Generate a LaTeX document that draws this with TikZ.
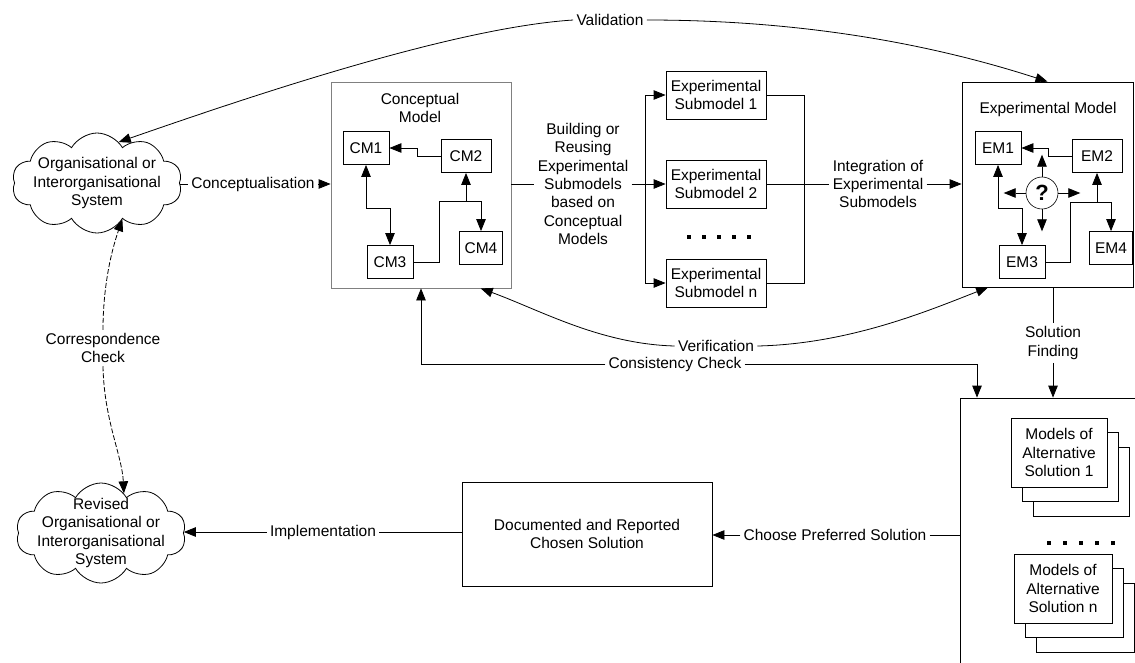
\documentclass[tikz,border=0pt]{standalone}
\usepackage{fontspec}
\setmainfont{Liberation Sans}
\usetikzlibrary{arrows.meta,shapes.symbols}

\begin{document}
\begin{tikzpicture}[x=1pt,y=-1pt,line width=0.8pt,
	font=\fontsize{15.5}{18.3}\selectfont,
	arr/.style={-{Triangle[length=12pt,width=9.5pt]}},
	arrboth/.style={{Triangle[length=12pt,width=9.5pt]}-{Triangle[length=12pt,width=9.5pt]}},
	txt/.style={align=center,inner sep=3pt},
	mbox/.style={draw,minimum width=46pt,minimum height=33pt,inner sep=0pt},
	subbox/.style={draw,align=center,minimum width=100pt,minimum height=48pt,inner sep=0pt},
	altbox/.style={draw,fill=white,align=center,minimum height=69pt,inner sep=0pt},
	orgcloud/.style={draw,cloud,cloud puffs=10,cloud puff arc=120,minimum width=170pt,minimum height=100pt,inner sep=0pt}]
	\useasboundingbox (0,0) rectangle (1135,662);
	\clip (0,0) rectangle (1135,662);

	% systems
	\node[orgcloud] (org) at (97,183) {};
	\node[txt] (orgtxt) at (org) {Organisational or\\Interorganisational\\System};
	\node[orgcloud] (rev) at (101,533) {};
	\node[txt] (revtxt) at (rev) {Revised\\Organisational or\\Interorganisational\\System};

	% conceptual model
	\node[draw=black!50,minimum width=180pt,minimum height=206pt] (cbox) at (421,185) {};
	\node[txt] (ctitle) at (420,108) {Conceptual\\Model};
	\node[mbox] (cm1) at (366,148) {CM1};
	\node[mbox,minimum width=50pt] (cm2) at (466,156) {CM2};
	\node[mbox] (cm3) at (390,262) {CM3};
	\node[mbox,minimum width=43pt] (cm4) at (481,248) {CM4};
	\draw[arr] (cm2.west) -- ++(-23,0) |- (cm1.east);
	\draw[arrboth] (cm1.south) -- ++(0,43) -| (cm3.north);
	\draw[arr] (cm3.east) -| (439,201) -| (cm2.south);
	\draw[arr] (cm2.south |- 0,201) -| (cm4.north);

	% experimental submodels
	\node[subbox] (es1) at (716,95) {Experimental\\Submodel 1};
	\node[subbox] (es2) at (716,184) {Experimental\\Submodel 2};
	\node[subbox] (esn) at (716,283) {Experimental\\Submodel n};
	\foreach \i in {0,...,4}
		\fill (687+15*\i,235) rectangle ++(3.5,3.5);

	\node[txt] (concep) at (253,184) {Conceptualisation};
	\draw (org.east |- concep.west) -- (concep.west);
	\draw[arr] (concep.east) -- (cbox.west |- concep.east);

	\node[txt] (build) at (583,184) {Building or\\Reusing\\Experimental\\Submodels\\based on\\Conceptual\\Models};
	\coordinate (busl) at (645,184);
	\draw (cbox.east |- build.west) -- (build.west);
	\draw (build.east) -- (busl);
	\draw[arr] (busl) -- (es2.west);
	\draw[arr] (busl |- es1.west) -- (es1.west);
	\draw[arr] (busl |- esn.west) -- (esn.west);
	\draw (busl |- es1.west) -- (busl |- esn.west);

	\coordinate (busr) at (804,184);
	\draw (es1.east) -| (busr) |- (esn.east);
	\draw (es2.east) -- (busr);
	\node[txt] (integ) at (878,184) {Integration of\\Experimental\\Submodels};
	\draw (busr) -- (integ.west);

	% experimental model
	\node[draw,minimum width=171pt,minimum height=205pt] (em) at (1047.5,184.5) {};
	\node[txt] (etitle) at (1048,109) {Experimental Model};
	\node[mbox] (em1) at (998,148) {EM1};
	\node[mbox,minimum width=50pt] (em2) at (1097,156) {EM2};
	\node[mbox] (em3) at (1022,262) {EM3};
	\node[mbox,minimum width=43pt] (em4) at (1111,248) {EM4};
	\draw[arr] (em2.west) -- ++(-23,0) |- (em1.east);
	\draw[arrboth] (em1.south) -- ++(0,43) -| (em3.north);
	\draw[arr] (em3.east) -| (1070,202) -| (em2.south);
	\draw[arr] (em2.south |- 0,202) -| (em4.north);
	\node[draw,circle,line width=0.6pt,minimum size=32pt,inner sep=0pt,font=\fontsize{22}{22}\selectfont\bfseries] (q) at (1042,193) {?};
	\draw[arr] (q.north) -- ++(0,-22);
	\draw[arr] (q.south) -- ++(0,22);
	\draw[arr] (q.west) -- ++(-22,0);
	\draw[arr] (q.east) -- ++(22,0);
	\draw[arr] (integ.east) -- (em.west |- integ.east);

	% validation and verification
	\node[txt] (val) at (610,20) {Validation};
	\draw[arr] (val.west) .. controls (450,28) and (240,100) .. (org.62);
	\draw[arr] (val.east) .. controls (820,20) and (950,50) .. (em.north);
	\node[txt] (ver) at (716,346) {Verification};
	\draw[arr] (ver.west) .. controls (600,344) and (540,310) .. (cbox.-60);
	\draw[arr] (ver.east) .. controls (850,344) and (930,310) .. (em.-120);

	% solutions
	\node[draw,minimum width=200pt,minimum height=302pt] (sbox) at (1060,549) {};
	\node[txt] (cons) at (675,364) {Consistency Check};
	\draw[arr] (cons.west) -| (cbox.south);
	\draw[arr] (cons.east) -| (sbox.north -| 977,0);
	\node[txt] (solf) at (1053,343) {Solution\\Finding};
	\draw (em.south -| solf.north) -- (solf.north);
	\draw[arr] (solf.south) -- (sbox.north -| solf.south);

	\foreach \dx/\dy in {22/29,11/14} {
		\draw[fill=white] (1011+\dx,418+\dy) rectangle ++(96,69);
		\draw[fill=white] (1014+\dx,554+\dy) rectangle ++(98,69);
	}
	\node[altbox,minimum width=96pt] (alt1) at (1059,452.5) {Models of\\Alternative\\Solution 1};
	\node[altbox,minimum width=98pt] (altn) at (1063,588.5) {Models of\\Alternative\\Solution n};
	\foreach \i in {0,...,4}
		\fill (1047+16*\i,541) rectangle ++(3.5,3.5);

	\node[draw,align=center,minimum width=250pt,minimum height=104pt] (doc) at (587,534) {Documented and Reported\\Chosen Solution};
	\node[txt] (choose) at (835,535) {Choose Preferred Solution};
	\draw[arr] (choose.west) -- (doc.east |- choose.west);
	\draw (choose.east) -- (sbox.west |- choose.east);
	\node[txt] (impl) at (323,532) {Implementation};
	\draw (doc.west |- impl.east) -- (impl.east);
	\draw[arr] (impl.west) -- (rev.east |- impl.west);

	% correspondence
	\node[txt] (corr) at (103,348) {Correspondence\\Check};
	\draw[arr,dash pattern=on 5pt off 2pt] (corr.north) .. controls (103,290) and (110,255) .. (org.-55);
	\draw[arr,dash pattern=on 5pt off 2pt] (corr.south) .. controls (104,420) and (122,455) .. (rev.60);
\end{tikzpicture}
\end{document}
